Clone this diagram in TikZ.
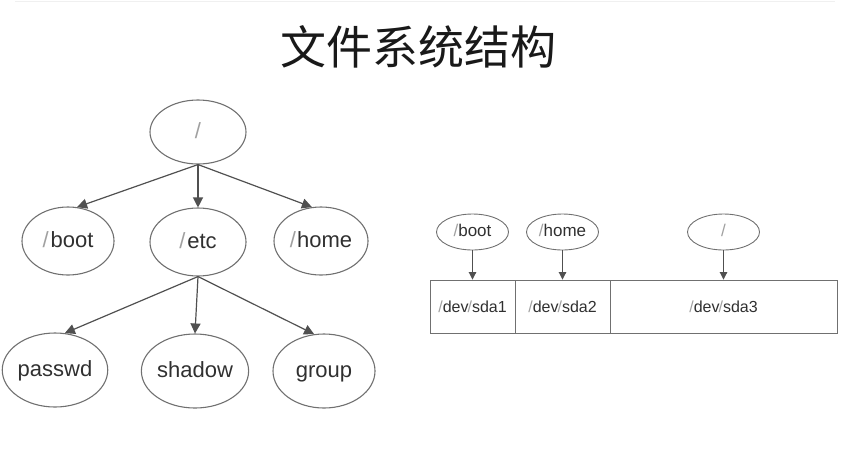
\documentclass[tikz,border=0pt]{standalone}
\usepackage{fontspec}
\setmainfont{Liberation Sans}
\newfontfamily\cjk{Noto Sans CJK SC}
\usetikzlibrary{shapes.geometric,arrows.meta}
\definecolor{edgegray}{HTML}{707070}
\definecolor{arrowgray}{HTML}{505050}
\definecolor{txtgray}{HTML}{303030}
\definecolor{slashgray}{HTML}{A0A0A0}
\newcommand{\slsh}{\textcolor{slashgray}{/}}
\tikzset{
  bigell/.style={ellipse,draw=edgegray,line width=1.1pt,inner sep=0pt,
    text=txtgray,font=\fontsize{22}{24}\selectfont,text height=16pt,text depth=4pt},
  smallell/.style={ellipse,draw=edgegray,line width=0.9pt,inner sep=0pt,
    minimum width=72pt,minimum height=36pt,text=txtgray,font=\fontsize{17}{19}\selectfont,
    text height=12pt,text depth=3pt},
  part/.style={rectangle,draw=edgegray,line width=0.9pt,inner sep=0pt,
    minimum height=53pt,text=txtgray,font=\fontsize{16}{18}\selectfont},
  arr/.style={draw=arrowgray,line width=1.2pt,-{Triangle[length=10pt,width=10pt]}},
  sarr/.style={draw=arrowgray,line width=0.9pt,-{Triangle[length=7.5pt,width=7.5pt]}}
}
\begin{document}
\begin{tikzpicture}[x=1pt,y=-1pt]
\useasboundingbox (0,0) rectangle (845,448);
\draw[black!6,line width=1pt] (15,1) -- (835,1);
\node[text=black!90,font=\cjk\fontsize{46}{50}\selectfont] (title) at (418,47) {文件系统结构};
% left tree
\node[bigell,minimum width=96pt,minimum height=64pt] (root) at (198,132) {\slsh};
\node[bigell,minimum width=92pt,minimum height=68pt] (boot) at (68,241) {\slsh\kern2pt boot};
\node[bigell,minimum width=96pt,minimum height=68pt] (etc) at (198,242) {\slsh\kern2pt etc};
\node[bigell,minimum width=94pt,minimum height=68pt] (home) at (321,241) {\slsh\kern1pt home};
\node[bigell,minimum width=94pt,minimum height=74pt] (passwd) at (55,370) {passwd};
\node[bigell,minimum width=104pt,minimum height=74pt] (shadow) at (195,371) {shadow};
\node[bigell,minimum width=102pt,minimum height=74pt] (group) at (324,371) {group};
\draw[arr] (root.south) -- (boot.75);
\draw[arr] (root.south) -- (etc.north);
\draw[arr] (root.south) -- (home.105);
\draw[arr] (etc.south) -- (passwd.75);
\draw[arr] (etc.south) -- (shadow.north);
\draw[arr] (etc.south) -- (group.105);
% right part
\node[part,minimum width=85pt] (sda1) at (472.5,306.5) {\slsh dev\kern-1pt\slsh sda1};
\node[part,minimum width=95pt] (sda2) at (562.5,306.5) {\slsh dev\kern-1pt\slsh sda2};
\node[part,minimum width=227pt] (sda3) at (723.5,306.5) {\slsh dev\kern-1pt\slsh sda3};
\node[smallell] (rboot) at (472.5,232) {\slsh boot};
\node[smallell] (rhome) at (562.5,232) {\slsh home};
\node[smallell] (rroot) at (723.5,232) {\slsh};
\draw[sarr] (rboot.south) -- (sda1.north);
\draw[sarr] (rhome.south) -- (sda2.north);
\draw[sarr] (rroot.south) -- (sda3.north);
\end{tikzpicture}
\end{document}
